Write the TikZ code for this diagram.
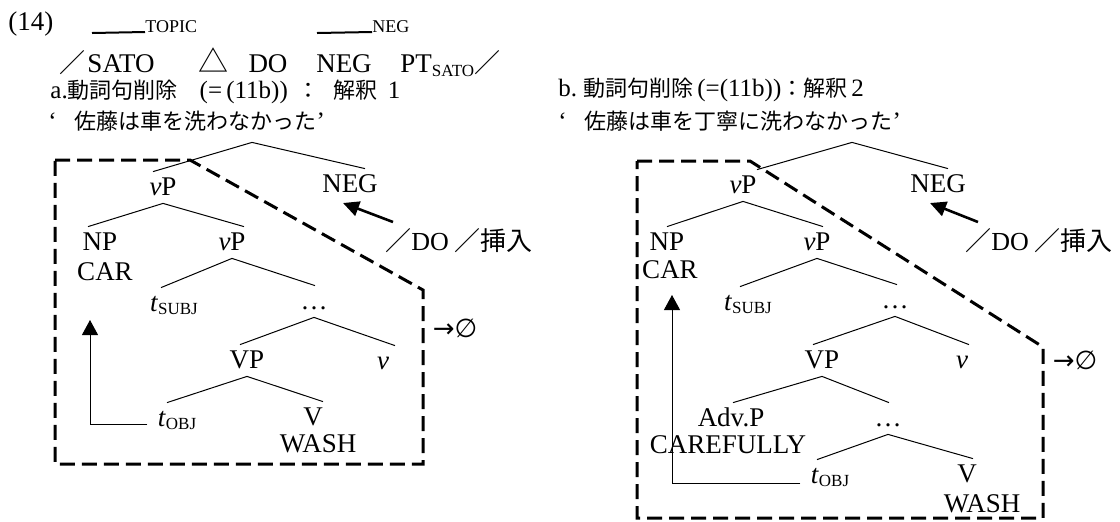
\documentclass[tikz,border=0pt]{standalone}
\usepackage{fontspec}
\setmainfont{Liberation Serif}
\newfontfamily\jp{Noto Sans CJK JP}
\newfontfamily\dv{DejaVu Sans}
\usetikzlibrary{calc,arrows.meta}
\tikzset{
 lab/.style={font=\fontsize{13.5}{15}\selectfont, inner sep=0pt, anchor=base, text height=11.5pt, text depth=4pt},
 jlab/.style={lab, font=\jp\fontsize{13}{15}\selectfont},
 txt/.style={font=\fontsize{12.5}{15}\selectfont, inner sep=0pt, anchor=base west},
 sm/.style={font=\fontsize{9}{10}\selectfont, inner sep=0pt, anchor=base west},
 br/.style={line width=0.5pt},
 ovl/.style={line width=1pt},
 dbox/.style={line width=1.5pt, dash pattern=on 7.5pt off 3.5pt, line join=miter},
 mv/.style={line width=0.5pt, -{Triangle[width=8pt,length=7.5pt]}},
 thk/.style={line width=1.3pt, -{Triangle[width=7.5pt,length=8pt]}},
 pt0/.style={inner sep=0pt, minimum size=0pt},
 sym/.style={font=\dv\fontsize{13}{15}\selectfont, inner sep=0pt},
}
\newcommand{\subsc}[1]{{\fontsize{8.5}{9}\selectfont\raisebox{-1.5pt}{#1}}}
\newcommand{\jj}[1]{{\jp\fontsize{11}{13}\selectfont #1}}
\newcommand{\tfork}[5]{\draw[br] ($(#2.north)+(#4,0)$) -- (#1.south) -- ($(#3.north)+(#5,0)$);}
\begin{document}
\begin{tikzpicture}[x=0.5pt,y=-0.5pt]
\useasboundingbox (0,0) rectangle (1120,521);
% header
\node[lab,anchor=base west] (ex) at (8,30) {(14)};
\node[sm] (topic) at (145,32) {TOPIC};
\draw[ovl] (92,33) -- (topic.base west);
\node[sm] (negs) at (372,32) {NEG};
\draw[ovl] (317,33) -- (negs.base west);
\node[jlab] (s1) at (72,72) {／};
\node[lab] (sato) at (121,72) {SATO};
\node[lab, font=\jp\fontsize{15}{15}\selectfont] (tri) at (213,72) {△};
\node[lab] (do) at (268,72) {DO};
\node[lab] (neg) at (344,72) {NEG};
\node[lab,anchor=base west] (pt) at (400,72) {PT{\fontsize{8.5}{9}\selectfont\raisebox{-2pt}{SATO}}};
\node[jlab,anchor=base west] (s2) at (pt.base east) {／};
\node[txt] (la) at (50,98) {a.\jj{動詞句削除}\hspace{11pt}(=\,(11b))\hspace{5pt}\jj{：}\hspace{7pt}\jj{解釈}\hspace{5pt}1};
\node[txt] (lb) at (558,96) {b.\ \jj{動詞句削除}\hspace{2pt}(=(11b))\jj{：解釈}\hspace{2pt}2};
\node[txt] (qa) at (48,129) {‘\hspace{9pt}\jj{佐藤は車を洗わなかった}’};
\node[txt] (qb) at (558,129) {‘\hspace{9pt}\jj{佐藤は車を丁寧に洗わなかった}’};
% tree a
\node[pt0] (ra) at (252,142) {};
\node[lab] (vPa) at (163,195) {\textit{v}P};
\node[lab] (NEGa) at (350,192) {NEG};
\node[lab] (NPa) at (100,250) {NP};
\node[lab] (CARa) at (105,280) {CAR};
\node[lab] (vPPa) at (232,250) {\textit{v}P};
\node[lab] (tsa) at (174,311) {\textit{t}\subsc{SUBJ}};
\node[lab] (dota) at (314,309) {…};
\node[lab] (VPa) at (247,368) {VP};
\node[lab] (va) at (383,369) {\textit{v}};
\node[lab] (toa) at (177,426) {\textit{t}\subsc{OBJ}};
\node[lab] (Va) at (313,425) {V};
\node[lab] (WASHa) at (318,452) {WASH};
\tfork{ra}{vPa}{NEGa}{-10}{15}
\tfork{vPa}{NPa}{vPPa}{-12}{12}
\tfork{vPPa}{tsa}{dota}{-13}{1}
\tfork{dota}{VPa}{va}{-7}{12}
\tfork{VPa}{toa}{Va}{-10}{10}
\draw[dbox] (55,160) -- (190,160) -- (423,290) -- (423,464) -- (55,464) -- cycle;
\coordinate (tipa) at (90,320);
\draw[mv] ($(toa.base west)+(-10,-2)$) -| (tipa);
\node[jlab,anchor=base west] (insa) at (385,250) {／\textrm{DO} ／挿入};
\coordinate (ia) at (393,222);
\coordinate (ja) at (343,203);
\draw[thk] (ia) -- (ja);
\node[sym] (za) at (455,328) {→∅};
% tree b
\node[pt0] (rb) at (852,142) {};
\node[lab] (vPb) at (743,193) {\textit{v}P};
\node[lab] (NEGb) at (938,192) {NEG};
\node[lab] (NPb) at (667,250) {NP};
\node[lab] (CARb) at (670,278) {CAR};
\node[lab] (vPPb) at (817,250) {\textit{v}P};
\node[lab] (tsb) at (748,310) {\textit{t}\subsc{SUBJ}};
\node[lab] (dotb) at (895,308) {…};
\node[lab] (VPb) at (822,368) {VP};
\node[lab] (vb) at (962,368) {\textit{v}};
\node[lab] (advb) at (731,426) {Adv.P};
\node[lab] (dotb2) at (888,426) {…};
\node[lab] (CAREb) at (728,453) {CAREFULLY};
\node[lab] (tob) at (830,483) {\textit{t}\subsc{OBJ}};
\node[lab] (Vb) at (967,482) {V};
\node[lab] (WASHb) at (982,512) {WASH};
\tfork{rb}{vPb}{NEGb}{14}{10}
\tfork{vPb}{NPb}{vPPb}{0}{6}
\tfork{vPPb}{tsb}{dotb}{-8}{2}
\tfork{dotb}{VPb}{vb}{-9}{7}
\tfork{VPb}{advb}{dotb2}{2}{1}
\tfork{dotb2}{tob}{Vb}{-13}{6}
\draw[dbox] (637,161) -- (750,161) -- (1043,347) -- (1043,518) -- (637,518) -- cycle;
\coordinate (tipb) at (672,295);
\draw[mv] ($(tob.base west)+(-10,0)$) -| (tipb);
\node[jlab,anchor=base west] (insb) at (965,250) {／\textrm{DO} ／挿入};
\coordinate (ib) at (978,222);
\coordinate (jb) at (930,203);
\draw[thk] (ib) -- (jb);
\node[sym] (zb) at (1075,360) {→∅};
\end{tikzpicture}
\end{document}
